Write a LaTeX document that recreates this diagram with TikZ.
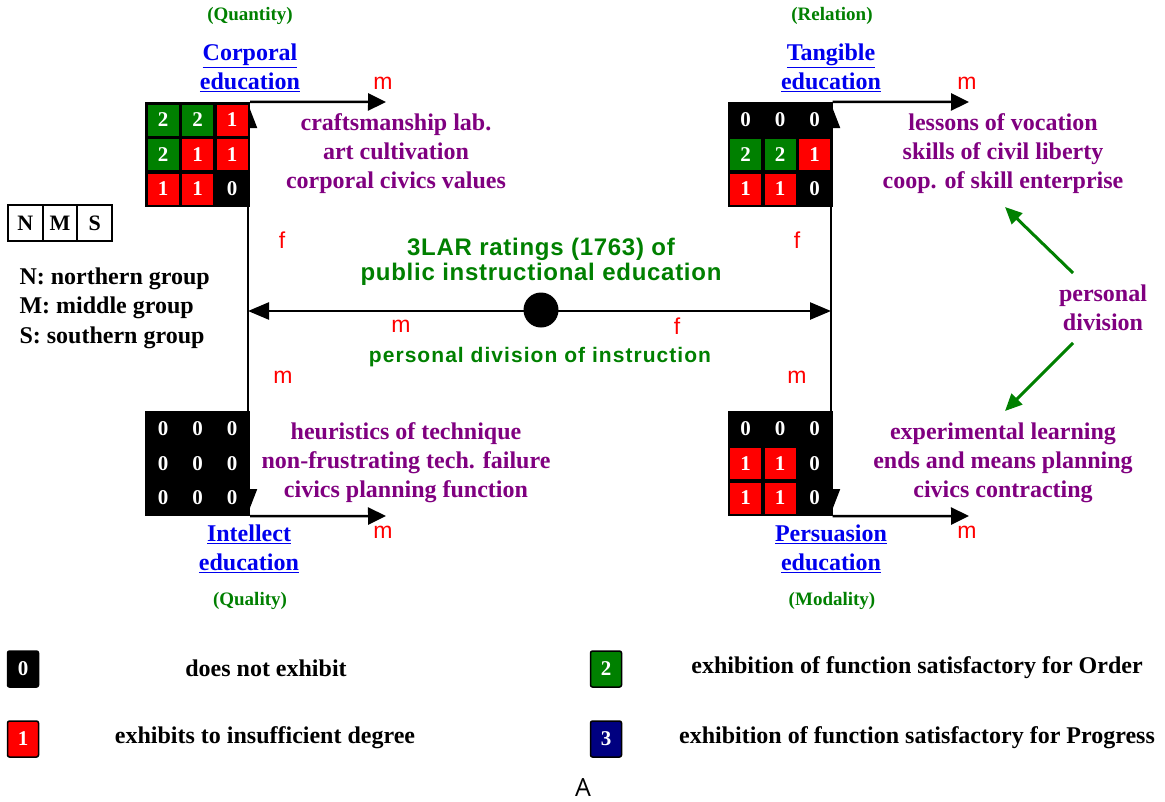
\documentclass[tikz,border=0pt]{standalone}
\usepackage{fontspec}
\setmainfont{Liberation Serif}
\newfontfamily\arialfont{Liberation Sans}
\newfontfamily\capfont{Open Sans}
\usetikzlibrary{arrows.meta}
\definecolor{cpurple}{RGB}{128,0,128}
\definecolor{cgreen}{RGB}{0,128,0}
\definecolor{cblue}{RGB}{0,0,238}
\definecolor{cred}{RGB}{255,0,0}
\definecolor{cnavy}{RGB}{0,0,128}
\newcommand{\fsz}[2]{\fontsize{#1}{#2}\selectfont}
\newcommand{\myul}[1]{\underline{#1}}
\newcommand{\qgrid}[3]{%
  \node[gridbg] (#1) at (#2) {};
  \foreach \v [count=\k from 0] in {#3}{%
    \pgfmathtruncatemacro{\rr}{floor(\k/3)}%
    \pgfmathtruncatemacro{\cc}{mod(\k,3)}%
    \node[c\v] (#1-\k) at ([shift={({(\cc-1)*34.5},{(\rr-1)*34.5})}]#1) {\v};
  }%
}
\begin{document}
\begin{tikzpicture}[x=1pt,y=-1pt,
  gridbg/.style={fill=black,minimum width=105pt,minimum height=105pt,inner sep=0pt},
  cell/.style={minimum width=32pt,minimum height=32pt,inner sep=0pt,draw=black,line width=0.8pt,text=white,font=\bfseries\fsz{21}{21}},
  c0/.style={cell,fill=black},
  c1/.style={cell,fill=cred},
  c2/.style={cell,fill=cgreen},
  purp/.style={text=cpurple,font=\bfseries\fsz{24}{29},align=center},
  blu/.style={text=cblue,font=\bfseries\fsz{24}{29},align=center},
  grn/.style={text=cgreen,font=\bfseries\fsz{19}{23}},
  rl/.style={text=cred,font=\arialfont\fsz{23}{23}},
  ctr/.style={text=cgreen,font=\arialfont\bfseries\fsz{24}{25}\addfontfeature{LetterSpace=3},align=center},
  vline/.style={line width=2pt,{Triangle[length=24pt,width=18pt]}-{Triangle[length=24pt,width=18pt]}},
  harr/.style={line width=2.5pt,-{Triangle[length=18pt,width=17pt]}},
  darr/.style={line width=2.5pt,{Triangle[length=21pt,width=17pt]}-{Triangle[length=21pt,width=17pt]}},
  garr/.style={draw=cgreen,line width=3pt,-{Triangle[length=17pt,width=15pt,fill=cgreen]}},
  nms/.style={draw=black,line width=2pt,minimum width=34.7pt,minimum height=36pt,inner sep=0pt,font=\bfseries\fsz{22}{22}},
  legbox/.style={draw=black,line width=1.5pt,rounded corners=2pt,minimum width=31pt,minimum height=36pt,inner sep=0pt,text=white,font=\bfseries\fsz{21}{21}},
  legtxt/.style={font=\bfseries\fsz{24}{24}}
]
\fill[white] (0,0) rectangle (1165,801);
\useasboundingbox (0,0) rectangle (1165,801);

% vertical double arrows (partly hidden by the grids)
\coordinate (lt) at (248,104);
\coordinate (lb) at (248,513);
\coordinate (rt) at (831,104);
\coordinate (rb) at (831,513);
\draw[vline] (lb) -- (lt);
\draw[vline] (rb) -- (rt);

% grids
\qgrid{gtl}{197.5,154.5}{2,2,1,2,1,1,1,1,0}
\qgrid{gtr}{780,154.5}{0,0,0,2,2,1,1,1,0}
\qgrid{gbl}{197.5,463.5}{0,0,0,0,0,0,0,0,0}
\qgrid{gbr}{780,463.5}{0,0,0,1,1,0,1,1,0}

% horizontal arrows from grids
\coordinate (atl) at (386,102);
\coordinate (atr) at (969,102);
\coordinate (abl) at (386,516);
\coordinate (abr) at (969,516);
\draw[harr] (gtl.north east) -- (atl);
\draw[harr] (gtr.north east) -- (atr);
\draw[harr] (gbl.south east) -- (abl);
\draw[harr] (gbr.south east) -- (abr);

% central double arrow
\coordinate (hl) at (248,311);
\coordinate (hr) at (831,311);
\draw[darr] (hl) -- (hr);
\node[circle,fill=black,minimum size=35pt,inner sep=0pt] (dot) at (541,310) {};

% titles
\node[grn] (qtl) at (250,16) {(Quantity)};
\node[grn] (qtr) at (832,16) {(Relation)};
\node[grn] (qbl) at (250,601) {(Quality)};
\node[grn] (qbr) at (832,601) {(Modality)};
\node[blu] (etl) at (250,68) {\myul{Corporal}\\\myul{education}};
\node[blu] (etr) at (831,68) {\myul{Tangible}\\\myul{education}};
\node[blu] (ebl) at (249,549) {\myul{Intellect}\\\myul{education}};
\node[blu] (ebr) at (831,549) {\myul{Persuasion}\\\myul{education}};

% purple texts
\node[purp] (ptl) at (396,154) {craftsmanship lab.\\art cultivation\\corporal civics values};
\node[purp] (ptr) at (1003,154) {lessons of vocation\\skills of civil liberty\\coop. of skill enterprise};
\node[purp] (pbl) at (406,463) {heuristics of technique\\non-frustrating tech. failure\\civics planning function};
\node[purp] (pbr) at (1003,463) {experimental learning\\ends and means planning\\civics contracting};
\node[purp] (pd) at (1103,308) {personal\\division};

% green arrows
\coordinate (gs1) at (1073,273);
\coordinate (ge1) at (1005,207);
\coordinate (gs2) at (1073,343);
\coordinate (ge2) at (1005,411);
\draw[garr] (gs1) -- (ge1);
\draw[garr] (gs2) -- (ge2);

% red labels
\node[rl] (m1) at (383,83) {m};
\node[rl] (m2) at (967,83) {m};
\node[rl] (m3) at (383,532) {m};
\node[rl] (m4) at (967,532) {m};
\node[rl] (f1) at (282,240) {f};
\node[rl] (f2) at (797,240) {f};
\node[rl] (m5) at (401,326) {m};
\node[rl] (f3) at (677,326) {f};
\node[rl] (m6) at (283,377) {m};
\node[rl] (m7) at (797,377) {m};

% centre texts
\node[ctr] (c1) at (541,262) {3LAR ratings (1763) of\\public instructional education};
\node[ctr,font=\arialfont\bfseries\fsz{21}{24}\addfontfeature{LetterSpace=5}] (c2) at (540,357) {personal division of instruction};

% NMS key
\node[nms] (kn) at (25.3,223) {N};
\node[nms] (km) at (60,223) {M};
\node[nms] (ks) at (94.7,223) {S};
\node[anchor=west,font=\bfseries\fsz{24}{29.5},align=left] (grp) at (16,308) {N: northern group\\M: middle group\\S: southern group};

% legend
\node[legbox,fill=black] (l0) at (23,669) {0};
\node[legbox,fill=cred] (l1) at (23,739) {1};
\node[legbox,fill=cgreen] (l2) at (606,669) {2};
\node[legbox,fill=cnavy] (l3) at (606,739) {3};
\node[legtxt] (t0) at (266,668) {does not exhibit};
\node[legtxt] (t1) at (265,738) {exhibits to insufficient degree};
\node[legtxt] (t2) at (917,668) {exhibition of function satisfactory for Order};
\node[legtxt] (t3) at (917,738) {exhibition of function satisfactory for Progress};

\node[font=\capfont\fsz{25}{25}] (cap) at (583,788) {A};
\end{tikzpicture}
\end{document}
